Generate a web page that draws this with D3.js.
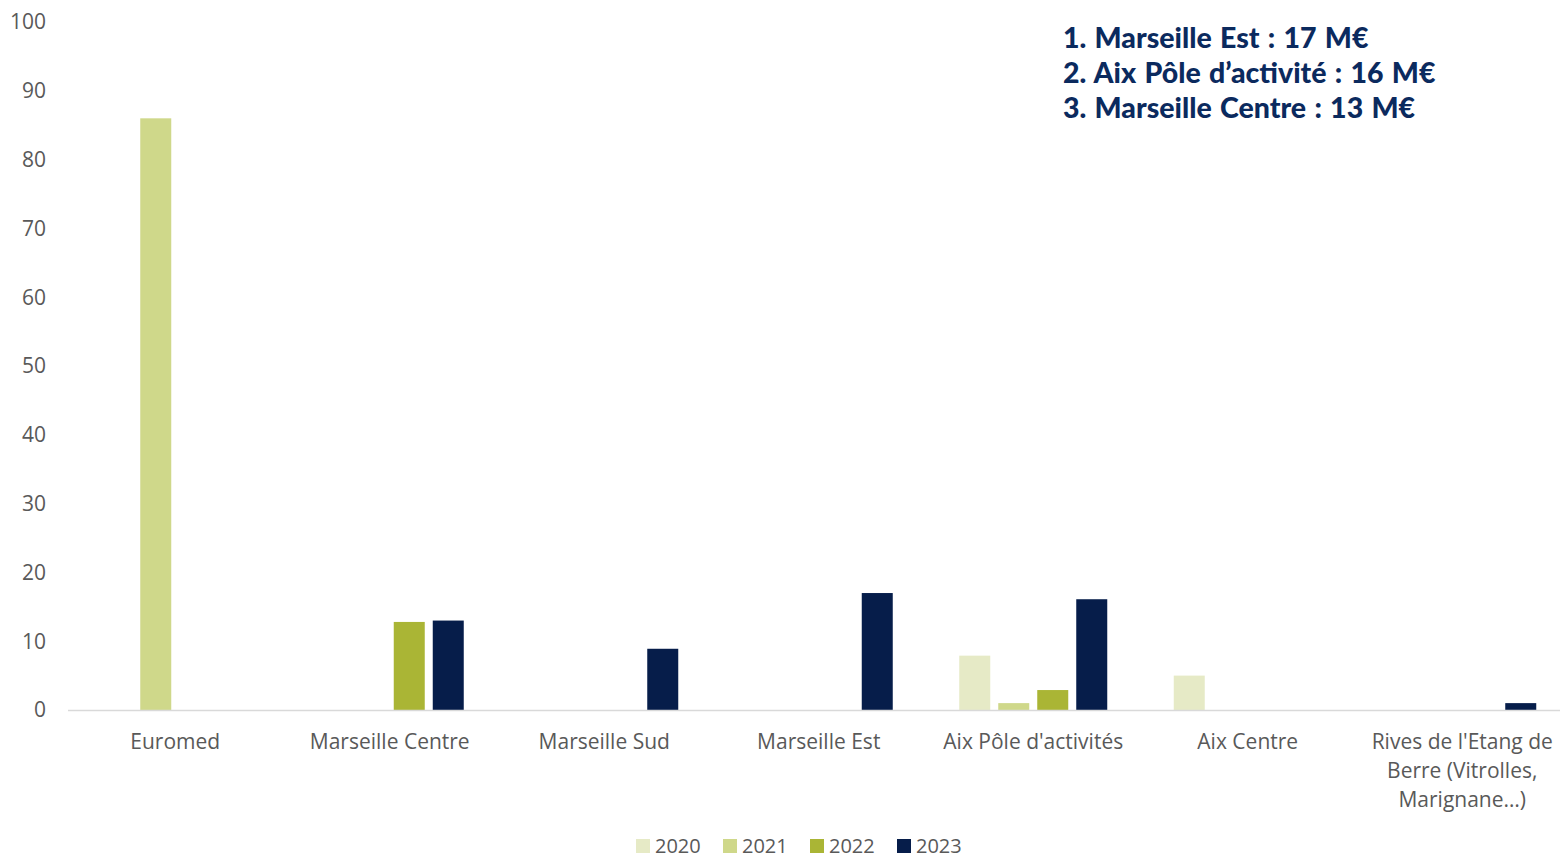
<!DOCTYPE html>
<html>
<head>
<meta charset="utf-8">
<script src="https://cdn.jsdelivr.net/npm/d3@7"></script>
<style>
  html, body { margin: 0; padding: 0; background: #fff; }
  svg { display: block; }
  .tick-label { font-family: "Open Sans", sans-serif; font-size: 21px; fill: #595959; }
  .legend-label { font-family: "Open Sans", sans-serif; font-size: 20px; fill: #595959; }
  .note { font-family: Lato, sans-serif; font-weight: 900; font-size: 28.5px; word-spacing: 1.5px; fill: #0B2A5E; }
</style>
</head>
<body>
<svg id="chart" width="1560" height="861"></svg>
<script>
// Zones and yearly amounts (M€)
const categories = [
  "Euromed",
  "Marseille Centre",
  "Marseille Sud",
  "Marseille Est",
  "Aix Pôle d'activités",
  "Aix Centre",
  "Rives de l'Etang de Berre (Vitrolles, Marignane…)"
];
const categoryLines = [
  ["Euromed"],
  ["Marseille Centre"],
  ["Marseille Sud"],
  ["Marseille Est"],
  ["Aix Pôle d'activités"],
  ["Aix Centre"],
  ["Rives de l'Etang de", "Berre (Vitrolles,", "Marignane…)"]
];
const years = ["2020", "2021", "2022", "2023"];
const values2020 = [0, 0, 0, 0, 7.9, 5, 0];
const values2021 = [86, 0, 0, 0, 1, 0, 0];
const values2022 = [0, 12.8, 0, 0, 2.9, 0, 0];
const values2023 = [0, 13, 8.9, 17, 16.1, 0, 1];
const yTicks = [0, 10, 20, 30, 40, 50, 60, 70, 80, 90, 100];
const notes = [
  "1. Marseille Est : 17 M€",
  "2. Aix Pôle d’activité : 16 M€",
  "3. Marseille Centre : 13 M€"
];
const colors = ["#E6EAC6", "#CFD88A", "#AAB535", "#061D4A"];

const series = [values2020, values2021, values2022, values2023];

const svg = d3.select("#chart");
const margin = { left: 68, right: 0, top: 22, bottom: 151 };
const width = 1560, height = 861;
const baseY = height - margin.bottom;

const x = d3.scaleBand()
  .domain(categories)
  .range([margin.left, margin.left + 7 * 214.5]);

const xInner = d3.scaleBand()
  .domain(years)
  .range([0, 148])
  .paddingInner(8 / 39);

const y = d3.scaleLinear().domain([0, 100]).range([baseY, margin.top]);

// Y axis labels (no axis line, no gridlines)
svg.append("g")
  .selectAll("text")
  .data(yTicks)
  .join("text")
  .attr("class", "tick-label")
  .attr("x", 46)
  .attr("y", d => y(d))
  .attr("dy", "0.35em")
  .attr("text-anchor", "end")
  .text(d => d);

// Bars
const groups = svg.append("g")
  .selectAll("g")
  .data(categories)
  .join("g")
  .attr("transform", c => `translate(${x(c) + x.bandwidth() / 2 - 74},0)`);

groups.selectAll("rect")
  .data((c, i) => years.map((yr, s) => ({ yr, s, v: series[s][i] })).filter(d => d.v > 0))
  .join("rect")
  .attr("x", d => xInner(d.yr))
  .attr("width", xInner.bandwidth())
  .attr("y", d => y(d.v))
  .attr("height", d => baseY - y(d.v))
  .attr("fill", d => colors[d.s]);

// Baseline
svg.append("line")
  .attr("x1", margin.left).attr("x2", width)
  .attr("y1", baseY + 0.5).attr("y2", baseY + 0.5)
  .attr("stroke", "#D9D9D9").attr("stroke-width", 1.5);

// Category labels
svg.append("g")
  .selectAll("text")
  .data(categories)
  .join("text")
  .attr("class", "tick-label")
  .attr("text-anchor", "middle")
  .attr("x", c => x(c) + x.bandwidth() / 2)
  .attr("y", 749)
  .each(function (c, i) {
    d3.select(this).selectAll("tspan")
      .data(categoryLines[i])
      .join("tspan")
      .attr("x", x(c) + x.bandwidth() / 2)
      .attr("dy", (d, j) => j === 0 ? 0 : 29)
      .text(d => d);
  });

// Legend
const legendX = [636, 723, 810, 897];
const legend = svg.append("g")
  .selectAll("g")
  .data(years)
  .join("g")
  .attr("transform", (d, i) => `translate(${legendX[i]},839)`);
legend.append("rect")
  .attr("width", 14).attr("height", 14)
  .attr("fill", (d, i) => colors[i]);
legend.append("text")
  .attr("class", "legend-label")
  .attr("x", 19).attr("y", 7).attr("dy", "0.35em")
  .text(d => d);

// Ranking note
svg.append("g")
  .selectAll("text")
  .data(notes)
  .join("text")
  .attr("class", "note")
  .attr("x", 1063)
  .attr("y", (d, i) => 48 + i * 35)
  .text(d => d);
</script>
</body>
</html>
